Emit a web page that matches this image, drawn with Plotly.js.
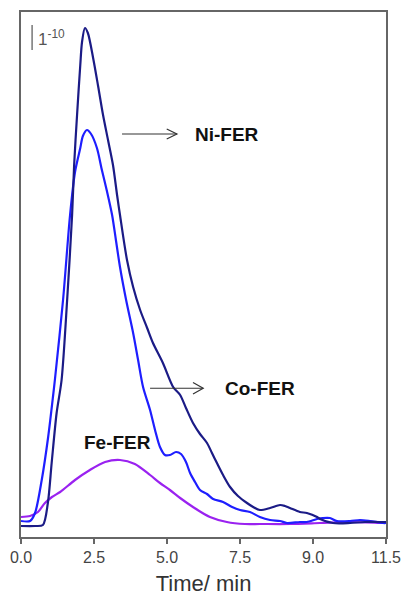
<!DOCTYPE html>
<html>
<head>
<meta charset="utf-8">
<script src="https://cdn.plot.ly/plotly-3.0.1.min.js"></script>
<style>
  html, body { margin: 0; padding: 0; background: #ffffff; }
  #chart { width: 403px; height: 596px; }
</style>
</head>
<body>
<div id="chart"></div>
<script>
// Time axis positions (evenly spaced ticks) and their printed labels
const tickPositions = [0, 2.5, 5, 7.5, 10, 12.5];
const tickLabels = ['0.0', '2.5', '5.0', '7.5', '9.0', '11.5'];

// Ni-FER signal (units of 1e-10)
const niTime = [0.00, 0.48, 0.75, 0.92, 1.05, 1.22, 1.39, 1.58, 1.75, 1.82, 1.92, 2.03, 2.09, 2.19,
  2.29, 2.47, 2.64, 2.81, 2.98, 3.15, 3.29, 3.39, 3.63, 3.84, 4.08, 4.32, 4.52, 4.86, 5.21, 5.45,
  5.65, 5.89, 6.13, 6.37, 6.54, 6.71, 6.92, 7.16, 7.43, 7.74, 7.95, 8.18, 8.53, 8.87, 9.04, 9.21,
  9.55, 9.79, 10.14, 10.24, 10.68, 11.27, 11.78, 12.40, 12.50];
const niSignal = [0.44, 0.44, 0.48, 1.36, 2.96, 4.96, 6.28, 9.48, 12.88, 14.88, 16.88, 18.88, 19.80, 20.36,
  20.16, 19.16, 18.04, 16.88, 15.88, 14.88, 13.68, 12.88, 11.08, 10.00, 9.08, 8.36, 7.76, 6.96, 6.00, 5.68,
  5.16, 4.56, 4.12, 3.76, 3.36, 2.96, 2.48, 2.00, 1.64, 1.36, 1.20, 1.08, 1.16, 1.28, 1.24, 1.16,
  1.00, 0.96, 0.80, 0.72, 0.56, 0.56, 0.60, 0.60, 0.60];

// Co-FER signal
const coTime = [0.00, 0.31, 0.48, 0.71, 0.93, 1.11, 1.16, 1.44, 1.68, 1.85, 2.03, 2.12, 2.26, 2.40,
  2.60, 2.77, 2.95, 3.12, 3.25, 3.39, 3.60, 3.84, 4.01, 4.18, 4.42, 4.59, 4.76, 4.93, 5.10, 5.31,
  5.48, 5.65, 5.79, 5.96, 6.13, 6.37, 6.58, 6.92, 7.23, 7.50, 7.84, 8.18, 8.53, 8.87, 9.11, 9.55,
  9.79, 10.14, 10.34, 10.58, 10.82, 11.27, 11.61, 11.95, 12.40, 12.50];
const coSignal = [0.64, 0.64, 0.96, 2.28, 4.00, 5.76, 6.28, 9.48, 12.88, 14.60, 15.56, 16.04, 16.28, 16.12,
  15.56, 14.68, 13.80, 12.88, 11.88, 10.80, 9.48, 8.16, 7.08, 6.00, 5.08, 4.28, 3.60, 3.28, 3.28, 3.40,
  3.32, 3.00, 2.56, 2.20, 1.88, 1.72, 1.52, 1.40, 1.20, 1.08, 1.00, 0.80, 0.68, 0.64, 0.56, 0.60,
  0.60, 0.72, 0.76, 0.76, 0.64, 0.64, 0.68, 0.64, 0.56, 0.56];

// Fe-FER signal
const feTime = [0.00, 0.31, 0.58, 0.82, 1.06, 1.34, 1.85, 2.36, 2.88, 3.39, 3.90, 4.42, 4.76, 5.10,
  5.45, 5.89, 6.47, 7.05, 7.67, 8.18, 9.21, 10.24, 11.27, 12.40, 12.50];
const feSignal = [0.80, 0.84, 1.00, 1.36, 1.60, 1.80, 2.28, 2.68, 3.00, 3.08, 2.92, 2.48, 2.16, 1.88,
  1.56, 1.20, 0.80, 0.60, 0.52, 0.52, 0.52, 0.56, 0.60, 0.56, 0.56];

const seriesNames = ['Ni-FER', 'Co-FER', 'Fe-FER'];
const seriesColors = ['#1b1b86', '#1e1eff', '#9a22f0'];

const lineTrace = (x, y, i) => ({
  x: x, y: y, type: 'scatter', mode: 'lines', name: seriesNames[i],
  line: { color: seriesColors[i], width: 2.2, shape: 'spline', smoothing: 0.8 },
  hoverinfo: 'x+y+name'
});

const data = [
  lineTrace(feTime, feSignal, 2),
  lineTrace(coTime, coSignal, 1),
  lineTrace(niTime, niSignal, 0)
];

const labelFont = { family: 'Liberation Sans, Arial, sans-serif', size: 19, color: '#111111' };
const arrowLine = { color: '#333333', width: 1.2 };

// horizontal arrow with an open chevron head, in data units
function arrowShape(x0, x1, y, headLen, headHalf) {
  return [
    { type: 'line', xref: 'x', yref: 'y', x0: x0, x1: x1, y0: y, y1: y, line: arrowLine },
    { type: 'path', xref: 'x', yref: 'y',
      path: `M ${x1 - headLen} ${y + headHalf} L ${x1} ${y} L ${x1 - headLen} ${y - headHalf}`,
      line: arrowLine }
  ];
}

const layout = {
  width: 403, height: 596,
  margin: { l: 21, r: 17, t: 12, b: 59 },
  paper_bgcolor: '#ffffff', plot_bgcolor: '#ffffff',
  showlegend: false,
  xaxis: {
    range: [0, 12.5], tickmode: 'array', tickvals: tickPositions, ticktext: tickLabels,
    ticks: 'outside', ticklen: 5, tickwidth: 1.5, tickcolor: '#666666',
    showline: true, linecolor: '#666666', linewidth: 1.6, mirror: true,
    showgrid: false, zeroline: false,
    tickfont: { family: 'Liberation Sans, Arial, sans-serif', size: 16, color: '#444444' },
    title: { text: 'Time/ min', standoff: 14,
      font: { family: 'Liberation Sans, Arial, sans-serif', size: 22, color: '#333333' } }
  },
  yaxis: {
    range: [0, 21], showticklabels: false, ticks: '',
    showline: true, linecolor: '#666666', linewidth: 1.6, mirror: true,
    showgrid: false, zeroline: false
  },
  shapes: [
    // 1e-10 scale bar
    { type: 'line', xref: 'x', yref: 'y', x0: 0.38, x1: 0.38, y0: 19.48, y1: 20.48,
      line: { color: '#777777', width: 1.5 } },
    ...arrowShape(3.46, 5.34, 16.12, 0.35, 0.2),
    ...arrowShape(4.42, 6.24, 5.95, 0.35, 0.23)
  ],
  annotations: [
    { xref: 'x', yref: 'y', x: 0.50, y: 19.98, xanchor: 'left', yanchor: 'middle', showarrow: false,
      text: '1<sup>-10</sup>', font: { family: 'Liberation Sans, Arial, sans-serif', size: 17, color: '#555555' } },
    { xref: 'x', yref: 'y', x: 7.05, y: 16.1, showarrow: false, text: '<b>Ni-FER</b>', font: labelFont },
    { xref: 'x', yref: 'y', x: 8.18, y: 5.95, showarrow: false, text: '<b>Co-FER</b>', font: labelFont },
    { xref: 'x', yref: 'y', x: 3.30, y: 3.80, showarrow: false, text: '<b>Fe-FER</b>', font: labelFont }
  ]
};

Plotly.newPlot('chart', data, layout, { displayModeBar: false, staticPlot: true });
</script>
</body>
</html>
